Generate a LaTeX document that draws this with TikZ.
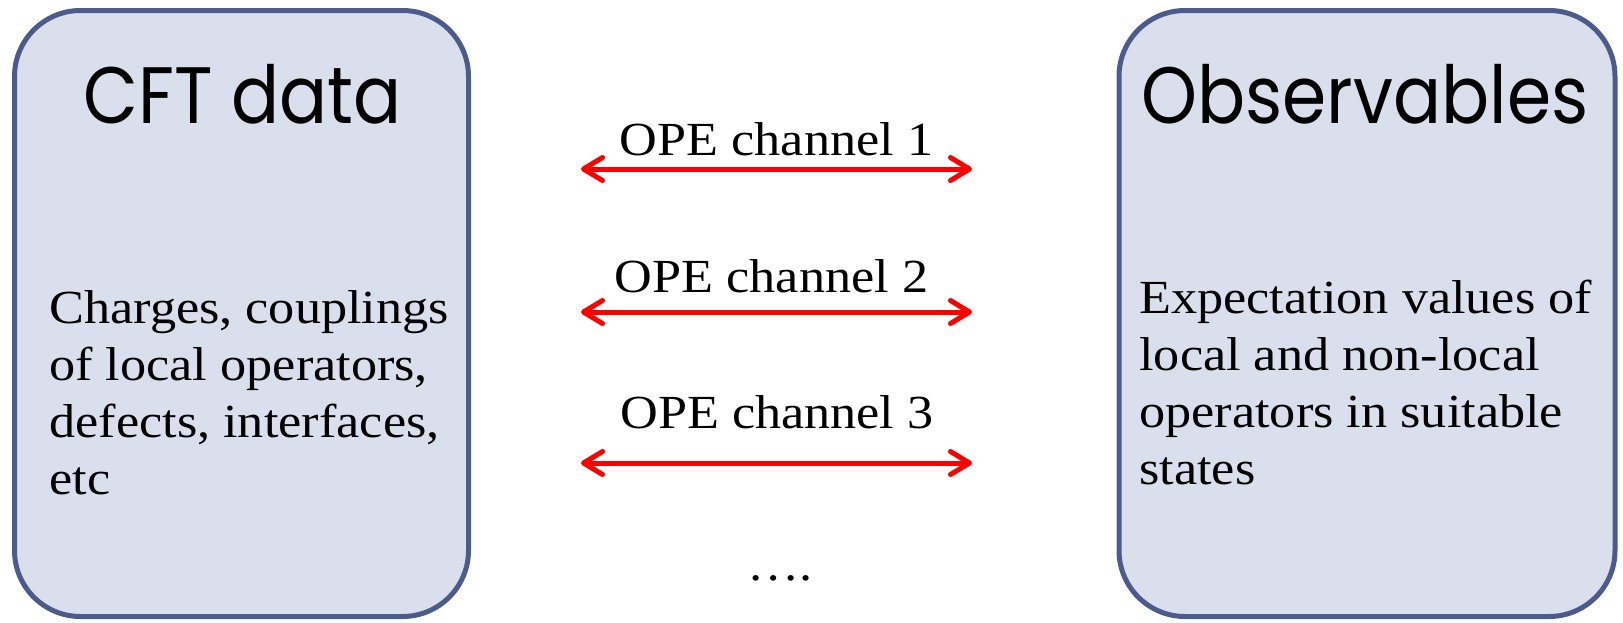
\documentclass[tikz,border=0pt]{standalone}
\usepackage{fontspec}
\setmainfont{Liberation Serif}[FakeStretch=1.1]
\newfontfamily\titlefont{Poppins}[FakeStretch=0.89]
\usetikzlibrary{arrows.meta}
\definecolor{boxfill}{RGB}{218,223,237}
\definecolor{boxline}{RGB}{74,91,140}
\definecolor{arrowred}{RGB}{255,0,0}
\tikzset{
  panel/.style={draw=boxline, fill=boxfill, line width=2.5pt, rounded corners=33pt,
    rectangle, inner sep=0pt},
  titletext/.style={font=\titlefont\fontsize{40}{46}\selectfont, inner sep=0pt, anchor=base},
  bodytext/.style={font=\fontsize{23.75}{28.5}\selectfont, inner sep=0pt, anchor=base west},
  chantext/.style={font=\fontsize{23.75}{28.5}\selectfont, inner sep=0pt, anchor=base},
  barb/.tip={Straight Barb[length=9.5pt, width=11.5pt, line cap=round, line join=round]},
  channel/.style={draw=arrowred, line width=2.5pt, barb-barb}
}
\begin{document}
\begin{tikzpicture}[x=0.5pt, y=-0.5pt]
\useasboundingbox (0,0) rectangle (1623,622);
% boxes
\node[panel, minimum width=227pt, minimum height=303pt] (cft) at (241.5,313.5) {};
\node[panel, minimum width=248pt, minimum height=303pt] (obs) at (1367,313.5) {};
% titles
\node[titletext] (cfttitle) at (242.5,123) {CFT data};
\node[titletext] (obstitle) at (1365,123) {Observables};
% body texts
\node[bodytext] (cftbody) at (49,323) {\vtop{\hbox{Charges, couplings}\hbox{of local operators,}\hbox{defects, interfaces,}\hbox{etc}}};
\node[bodytext] (obsbody) at (1139,313) {\vtop{\hbox{Expectation values of}\hbox{local and non-local}\hbox{operators in suitable}\hbox{states}}};
% channels
\coordinate (c1l) at (581,169); \coordinate (c1r) at (972,169);
\coordinate (c2l) at (581,312); \coordinate (c2r) at (972,312);
\coordinate (c3l) at (581,463); \coordinate (c3r) at (972,463);
\draw[channel] (c1l) -- (c1r);
\draw[channel] (c2l) -- (c2r);
\draw[channel] (c3l) -- (c3r);
\node[chantext] (l1) at (776.5,155) {OPE channel 1};
\node[chantext] (l2) at (771.5,292) {OPE channel 2};
\node[chantext] (l3) at (777,428) {OPE channel 3};
\node[chantext] (dots) at (780,580) {….};
\end{tikzpicture}
\end{document}
